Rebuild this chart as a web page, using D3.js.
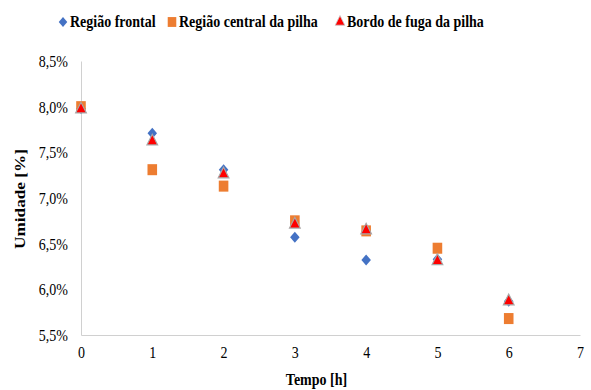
<!DOCTYPE html>
<html>
<head>
<meta charset="utf-8">
<script src="https://cdn.jsdelivr.net/npm/d3@7"></script>
<style>
  html, body { margin: 0; padding: 0; background: #fff; }
  svg { display: block; }
  text { font-family: "Liberation Serif", "Times New Roman", serif; fill: #000; }
</style>
</head>
<body>
<svg id="chart" width="591" height="390"></svg>
<script>
// Moisture content (%) along the pile over time (h)
const tempo = [0, 1, 2, 3, 4, 5, 6];
const regiaoFrontal = [7.98, 7.71, 7.31, 6.57, 6.32, 6.33, 5.87];
const regiaoCentral = [8.00, 7.31, 7.13, 6.75, 6.64, 6.45, 5.68];
const bordoFuga = [7.97, 7.62, 7.26, 6.71, 6.645, 6.31, 5.87];
const seriesNames = ["Região frontal", "Região central da pilha", "Bordo de fuga da pilha"];
const xTicks = [0, 1, 2, 3, 4, 5, 6, 7];
const yTicks = [5.5, 6.0, 6.5, 7.0, 7.5, 8.0, 8.5];

const svg = d3.select("#chart");
const stretch = 1.15;

const x = d3.scaleLinear().domain([0, 7]).range([81, 580]);
const y = d3.scaleLinear().domain([5.5, 8.5]).range([335, 61]);

const ptBR = d3.formatLocale({ decimal: ",", thousands: ".", grouping: [3], currency: ["R$", ""] });
const pct = ptBR.format(".1%");

// axes
const yAxis = svg.append("g")
  .attr("transform", `translate(${x(0)},0)`)
  .call(d3.axisLeft(y).tickValues(yTicks).tickSize(0).tickPadding(13).tickFormat(d => pct(d / 100)));
const xAxis = svg.append("g")
  .attr("transform", `translate(0,${y(5.5)})`)
  .call(d3.axisBottom(x).tickValues(xTicks).tickSize(0).tickPadding(10).tickFormat(d3.format("d")));

[yAxis, xAxis].forEach(g => {
  g.select(".domain").attr("stroke", "#d0d0d0").attr("stroke-width", 1);
  g.selectAll(".tick text")
    .attr("font-family", "Liberation Serif")
    .attr("font-size", 14)
    .attr("fill", "#222");
});
yAxis.selectAll(".tick text").attr("dy", "0.35em")
  .attr("transform", `scale(1,${stretch})`)
  .attr("y", 0);
xAxis.selectAll(".tick text").attr("transform", `scale(1,${stretch})`);

// axis titles
svg.append("text")
  .attr("transform", `translate(${x(3.5) - 14},385) scale(1,${stretch})`)
  .attr("text-anchor", "middle")
  .attr("font-size", 14).attr("font-weight", "bold")
  .text("Tempo [h]");
svg.append("text")
  .attr("transform", `translate(25,199) rotate(-90) scale(${stretch},1)`)
  .attr("text-anchor", "middle")
  .attr("font-size", 15).attr("font-weight", "bold")
  .text("Umidade [%]");

// marker styles
const markers = [
  { name: seriesNames[0], values: regiaoFrontal, sym: d3.symbolDiamond2, size: 58, fill: "#4472C4", stroke: "none" },
  { name: seriesNames[1], values: regiaoCentral, sym: d3.symbolSquare, size: 92, fill: "#ED7D31", stroke: "none" },
  { name: seriesNames[2], values: bordoFuga, sym: d3.symbolTriangle, size: 50, fill: "#FF0000", stroke: "#a8a8a8" }
];

markers.forEach(m => {
  svg.append("g").selectAll("path")
    .data(tempo.map((t, i) => ({ t, v: m.values[i] })))
    .join("path")
    .attr("d", d3.symbol().type(m.sym).size(m.size))
    .attr("transform", d => `translate(${x(d.t)},${y(d.v)}) scale(1,${stretch})`)
    .attr("fill", m.fill)
    .attr("stroke", m.stroke)
    .attr("stroke-width", m.stroke === "none" ? 0 : 1.1);
});

// legend
const legendX = [63, 172, 340];
const legend = svg.append("g");
markers.forEach((m, i) => {
  const g = legend.append("g").attr("transform", `translate(${legendX[i]},22)`);
  g.append("path")
    .attr("d", d3.symbol().type(m.sym).size(m.size * 0.8))
    .attr("transform", `scale(1,${stretch})`)
    .attr("fill", m.fill)
    .attr("stroke", m.stroke === "none" ? null : "#c8c8c8")
    .attr("stroke-width", 0.8);
  g.append("text")
    .attr("transform", `translate(7,4.5) scale(1,${stretch})`)
    .attr("font-size", 14).attr("font-weight", "bold")
    .text(m.name);
});
</script>
</body>
</html>
